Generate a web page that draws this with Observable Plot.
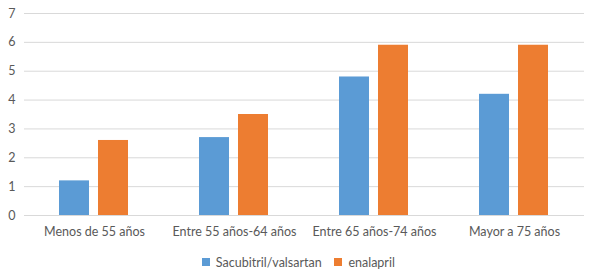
<!DOCTYPE html>
<html><head><meta charset="utf-8">
<script src="https://cdn.jsdelivr.net/npm/d3@7"></script>
<script src="https://cdn.jsdelivr.net/npm/@observablehq/plot@0.6"></script>
<style>
body{margin:0;background:#fff;font-family:Lato,sans-serif}
#legend{height:34px;display:flex;align-items:center;justify-content:center;padding-left:12px}
#legend > div{min-height:0 !important;margin:0 !important;font-size:12.5px;color:#595959;font-family:Lato,sans-serif}
</style>
</head><body><div id="chart"></div><div id="legend"></div>
<script>
const categories = ["Menos de 55 años","Entre 55 años-64 años","Entre 65 años-74 años","Mayor a 75 años"];
const seriesNames = ["Sacubitril/valsartan","enalapril"];
const sacubitril = [1.2,2.7,4.8,4.2];
const enalapril = [2.6,3.5,5.9,5.9];
const yTicks = [0,1,2,3,4,5,6,7];
const colors = ["#5b9bd5","#ed7d31"];
const data = categories.flatMap((c,i)=>[
  {cat:c,series:seriesNames[0],value:sacubitril[i]},
  {cat:c,series:seriesNames[1],value:enalapril[i]}
]);
const chart = Plot.plot({
  width:597, height:245, marginLeft:23, marginRight:12, marginTop:13, marginBottom:30,
  style:{fontFamily:"Lato, sans-serif", fontSize:"12.5px", color:"#595959", background:"#fff"},
  fx:{domain:categories, padding:0, label:null},
  x:{domain:seriesNames, paddingInner:0.225, paddingOuter:0.869, axis:null},
  y:{domain:[0,7], label:null},
  color:{domain:seriesNames, range:colors},
  marks:[
    Plot.gridY(yTicks,{stroke:"#d9d9d9", strokeOpacity:1}),
    Plot.axisY(yTicks,{tickSize:0, tickPadding:9, label:null, fill:"#595959"}),
    Plot.barY(data,{fx:"cat", x:"series", y:"value", fill:"series"}),
    Plot.axisFx({anchor:"bottom", tickSize:0, tickPadding:12, label:null, fill:"#595959"})
  ]
});
document.getElementById("chart").append(chart);
const leg = Plot.legend({color:{domain:seriesNames, range:colors}, legend:"swatches", swatchSize:8});
document.getElementById("legend").append(leg);
</script>
</body></html>
